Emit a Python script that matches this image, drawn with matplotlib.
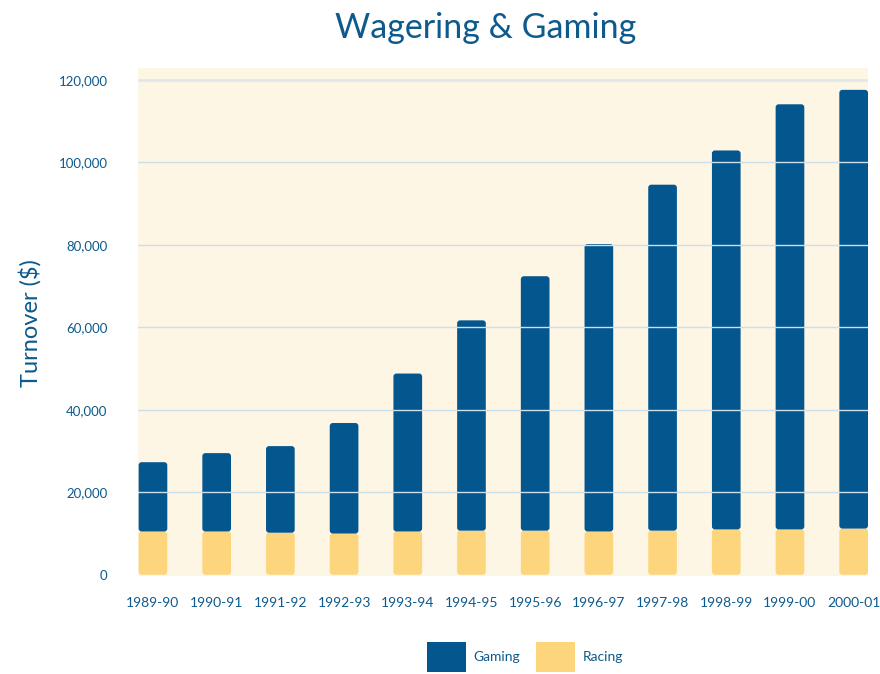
import numpy as np
import matplotlib
matplotlib.use('Agg')
import matplotlib.pyplot as plt
from matplotlib.patches import FancyBboxPatch, Patch
from matplotlib.ticker import FuncFormatter

years = ['1989-90', '1990-91', '1991-92', '1992-93', '1993-94', '1994-95',
         '1995-96', '1996-97', '1997-98', '1998-99', '1999-00', '2000-01']
racing = [10500, 10500, 10200, 10000, 10500, 10700,
          10700, 10500, 10700, 11000, 11000, 11200]
totals = [27300, 29500, 31200, 36800, 48800, 61700,
          72400, 80200, 94600, 102900, 114100, 117600]
gaming = [t - r for t, r in zip(totals, racing)]

blue = '#03568E'
yellow = '#FDD57C'
cream = '#FDF6E4'
text_color = '#0E5A8C'
grid_color = '#CFDFEA'

plt.rcParams['font.family'] = ['Lato', 'DejaVu Sans']

fig = plt.figure(figsize=(8.8, 6.74), dpi=100)
ax = fig.add_axes([138 / 880, 1 - 576 / 674, 730 / 880, 508 / 674])
ax.set_facecolor(cream)

x = np.arange(len(years))
width = 0.45
b1 = ax.bar(x, racing, width, color=yellow, zorder=2)
b2 = ax.bar(x, gaming, width, bottom=racing, color=blue, zorder=2)

ax.set_xlim(-width / 2 - 0.01, len(years) - 1 + width / 2)
ax.set_ylim(-300, 122900)

# swap plain rectangles for rounded ones
fig.canvas.draw()
px_x = ax.transData.transform((1, 0))[0] - ax.transData.transform((0, 0))[0]
px_y = ax.transData.transform((0, 1000))[1] - ax.transData.transform((0, 0))[1]
aspect = px_x / (px_y / 1000)
rad = 3 / px_x
for bars in (b1, b2):
    for r in bars:
        bx, by = r.get_xy()
        w, h = r.get_width(), r.get_height()
        fb = FancyBboxPatch((bx, by), w, h,
                            boxstyle=f'round,pad=0,rounding_size={rad}',
                            mutation_aspect=aspect,
                            facecolor=r.get_facecolor(), edgecolor='none', zorder=2)
        ax.add_patch(fb)
        r.set_visible(False)

for v in range(20000, 120001, 20000):
    lw = 1.8 if v == 120000 else 1.0
    c = '#E0E6E8' if v == 120000 else grid_color
    ax.axhline(v, color=c, linewidth=lw, zorder=3)

ax.set_yticks(range(0, 120001, 20000))
ax.yaxis.set_major_formatter(FuncFormatter(lambda v, p: f'{int(v):,}'))
ax.set_xticks(x)
ax.set_xticklabels(years)
ax.tick_params(axis='y', length=0, pad=22, labelsize=9.5, labelcolor=text_color)
ax.tick_params(axis='x', length=0, pad=15, labelsize=10, labelcolor=text_color)
for s in ax.spines.values():
    s.set_visible(False)

fig.text(30 / 880, 1 - 323 / 674, 'Turnover ($)', rotation=90, ha='center', va='center',
         fontsize=17, color=text_color)
fig.text(486 / 880, 1 - 28 / 674, 'Wagering & Gaming', ha='center', va='center',
         fontsize=24.5, color=text_color)

handles = [Patch(facecolor=blue, label='Gaming'), Patch(facecolor=yellow, label='Racing')]
leg = fig.legend(handles=handles, loc='center', bbox_to_anchor=(525 / 880, 1 - 657 / 674),
                 ncol=2, frameon=False, fontsize=10, handlelength=2.8, handleheight=2.9,
                 columnspacing=1.2, handletextpad=0.5)
for t in leg.get_texts():
    t.set_color(text_color)

fig.savefig('out.png', dpi=100)
